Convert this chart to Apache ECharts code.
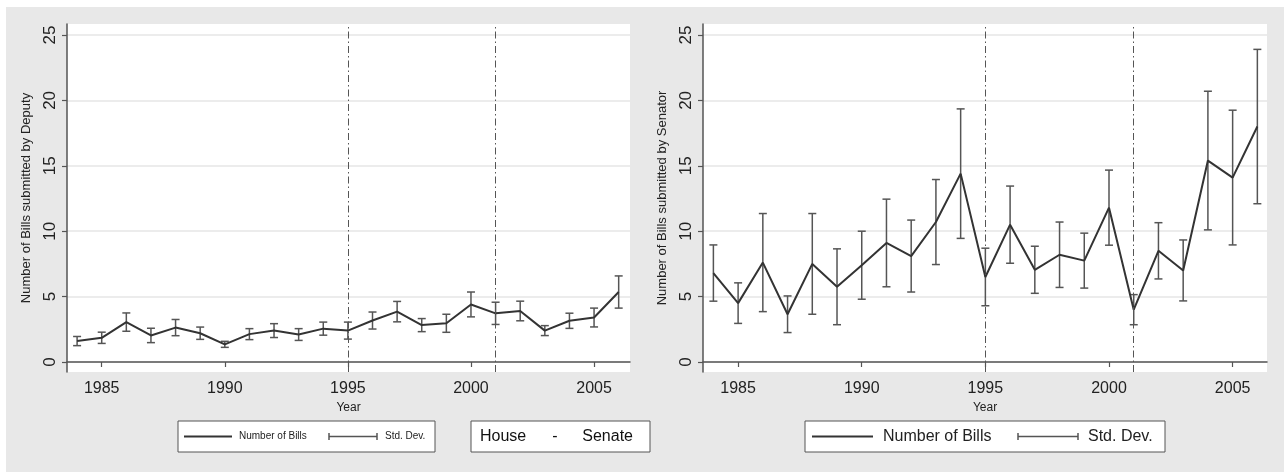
<!DOCTYPE html>
<html>
<head>
<meta charset="utf-8">
<script src="https://cdn.jsdelivr.net/npm/echarts@6/dist/echarts.min.js"></script>
<style>
html, body { margin: 0; padding: 0; background: #fff; }
#chart { width: 1284px; height: 472px; }
</style>
</head>
<body>
<div id="chart"></div>
<script>
// data
var years = [1984, 1985, 1986, 1987, 1988, 1989, 1990, 1991, 1992, 1993, 1994, 1995,
             1996, 1997, 1998, 1999, 2000, 2001, 2002, 2003, 2004, 2005, 2006];
var deputyMean = [1.6, 1.85, 3.05, 2.03, 2.63, 2.2, 1.35, 2.13, 2.4, 2.1, 2.55, 2.4,
                  3.17, 3.85, 2.82, 2.96, 4.4, 3.72, 3.9, 2.4, 3.15, 3.4, 5.35];
var deputySd = [0.35, 0.43, 0.7, 0.55, 0.62, 0.47, 0.23, 0.42, 0.53, 0.45, 0.5, 0.65,
                0.65, 0.78, 0.5, 0.69, 0.95, 0.85, 0.75, 0.38, 0.58, 0.72, 1.23];
var senatorMean = [6.8, 4.5, 7.6, 3.65, 7.5, 5.75, 7.4, 9.1, 8.1, 10.7, 14.4, 6.5,
                   10.5, 7.05, 8.2, 7.75, 11.8, 4.0, 8.5, 7.0, 15.4, 14.1, 18.0];
var senatorSd = [2.15, 1.55, 3.75, 1.4, 3.85, 2.9, 2.6, 3.35, 2.75, 3.25, 4.95, 2.2,
                 2.95, 1.8, 2.5, 2.1, 2.87, 1.15, 2.15, 2.33, 5.3, 5.15, 5.9];
var yTicks = [0, 5, 10, 15, 20, 25];
var xTicks = [1985, 1990, 1995, 2000, 2005];
var breakYears = [1995, 2001];

var FONT = '"Liberation Sans", Arial, sans-serif';
var chart = echarts.init(document.getElementById('chart'));

function pairs(mean) {
	return years.map(function (y, i) { return [y, mean[i]]; });
}
function bars(mean, sd) {
	return years.map(function (y, i) { return [y, mean[i] - sd[i], mean[i] + sd[i]]; });
}

function errorBar(params, api) {
	var top = api.coord([api.value(0), api.value(2)]);
	var bot = api.coord([api.value(0), api.value(1)]);
	var w = 4;
	var st = { stroke: '#555', lineWidth: 1.5 };
	return {
		type: 'group',
		children: [
			{ type: 'line', shape: { x1: top[0], y1: top[1], x2: bot[0], y2: bot[1] }, style: st },
			{ type: 'line', shape: { x1: top[0] - w, y1: top[1], x2: top[0] + w, y2: top[1] }, style: st },
			{ type: 'line', shape: { x1: bot[0] - w, y1: bot[1], x2: bot[0] + w, y2: bot[1] }, style: st }
		]
	};
}

function xAxisFor(idx, min, max) {
	return {
		type: 'value', gridIndex: idx, min: min, max: max,
		name: 'Year', nameLocation: 'middle', nameGap: 25,
		nameTextStyle: { fontFamily: FONT, fontSize: 12, color: '#222' },
		axisLine: { show: true, lineStyle: { color: '#555', width: 1.5 } },
		axisTick: { show: true, customValues: xTicks, length: 5, lineStyle: { color: '#555', width: 1.2 } },
		axisLabel: {
			customValues: xTicks, fontFamily: FONT, fontSize: 16, color: '#222', margin: 9,
			formatter: function (v) { return String(Math.round(v)); }
		},
		splitLine: { show: false }
	};
}
function yAxisFor(idx, name) {
	return {
		type: 'value', gridIndex: idx, min: -0.765, max: 25.84,
		name: name, nameLocation: 'middle', nameGap: 34, nameRotate: 90,
		nameTextStyle: { fontFamily: FONT, fontSize: 13, color: '#222' },
		axisLine: { show: true, lineStyle: { color: '#555', width: 1.5 } },
		axisTick: { show: true, customValues: yTicks, length: 5, lineStyle: { color: '#555', width: 1.2 } },
		axisLabel: { customValues: yTicks, rotate: 90, fontFamily: FONT, fontSize: 17, color: '#222', margin: 8 },
		splitLine: { show: true, lineStyle: { color: '#e6e6e6', width: 1.5 } }
	};
}

function lineSeries(idx, mean) {
	return {
		type: 'line', xAxisIndex: idx, yAxisIndex: idx, data: pairs(mean),
		showSymbol: false, symbol: 'none', z: 4,
		lineStyle: { color: '#333', width: 2 },
		markLine: {
			silent: true, symbol: ['none', 'none'], label: { show: false },
			lineStyle: { color: '#555', width: 1, type: [7, 3, 1.5, 3] },
			data: breakYears.map(function (y) { return { xAxis: y }; })
		}
	};
}
function barSeries(idx, mean, sd) {
	return {
		type: 'custom', xAxisIndex: idx, yAxisIndex: idx, data: bars(mean, sd),
		renderItem: errorBar, z: 3
	};
}

function legendBox(x, w, lineX, lineW, errX, errW, label1X, label2X, size) {
	var cy = 436.5;
	var tStyle = function (txt, tx) {
		return { type: 'text', style: { text: txt, x: tx, y: cy, font: size + 'px ' + FONT, fill: '#222', verticalAlign: 'middle' } };
	};
	return {
		type: 'group', children: [
			{ type: 'rect', shape: { x: x, y: 421, width: w, height: 31 }, style: { fill: '#fff', stroke: '#555', lineWidth: 1 } },
			{ type: 'line', shape: { x1: lineX, y1: cy, x2: lineX + lineW, y2: cy }, style: { stroke: '#333', lineWidth: 2 } },
			tStyle('Number of Bills', label1X),
			{ type: 'line', shape: { x1: errX, y1: cy, x2: errX + errW, y2: cy }, style: { stroke: '#555', lineWidth: 1.5 } },
			{ type: 'line', shape: { x1: errX, y1: cy - 3.5, x2: errX, y2: cy + 3.5 }, style: { stroke: '#555', lineWidth: 1.5 } },
			{ type: 'line', shape: { x1: errX + errW, y1: cy - 3.5, x2: errX + errW, y2: cy + 3.5 }, style: { stroke: '#555', lineWidth: 1.5 } },
			tStyle('Std. Dev.', label2X)
		]
	};
}

var option = {
	backgroundColor: '#e8e8e8',
	animation: false,
	grid: [
		{ left: 67, top: 24, width: 563, height: 348, show: true, backgroundColor: '#fff', borderWidth: 0 },
		{ left: 703, top: 24, width: 564, height: 348, show: true, backgroundColor: '#fff', borderWidth: 0 }
	],
	xAxis: [xAxisFor(0, 1983.59, 2006.46), xAxisFor(1, 1983.58, 2006.39)],
	yAxis: [yAxisFor(0, 'Number of Bills submitted by Deputy'), yAxisFor(1, 'Number of Bills submitted by Senator')],
	series: [
		barSeries(0, deputyMean, deputySd),
		lineSeries(0, deputyMean),
		barSeries(1, senatorMean, senatorSd),
		lineSeries(1, senatorMean)
	],
	graphic: [
		{ type: 'rect', shape: { x: 0, y: 0, width: 1284, height: 7 }, style: { fill: '#fff' }, silent: true },
		{ type: 'rect', shape: { x: 0, y: 0, width: 6, height: 472 }, style: { fill: '#fff' }, silent: true },
		legendBox(178, 257, 184, 48, 329, 48, 239, 385, 10),
		{
			type: 'group', children: [
				{ type: 'rect', shape: { x: 471, y: 421, width: 179, height: 31 }, style: { fill: '#fff', stroke: '#555', lineWidth: 1 } },
				{ type: 'text', style: { text: 'House', x: 480, y: 436.5, font: '16px ' + FONT, fill: '#111', verticalAlign: 'middle' } },
				{ type: 'text', style: { text: '-', x: 555, y: 436.5, font: '16px ' + FONT, fill: '#111', verticalAlign: 'middle', align: 'center' } },
				{ type: 'text', style: { text: 'Senate', x: 633, y: 436.5, font: '16px ' + FONT, fill: '#111', verticalAlign: 'middle', align: 'right' } }
			]
		},
		legendBox(805, 360, 812, 61, 1018, 60, 883, 1088, 16)
	]
};
chart.setOption(option);
</script>
</body>
</html>
